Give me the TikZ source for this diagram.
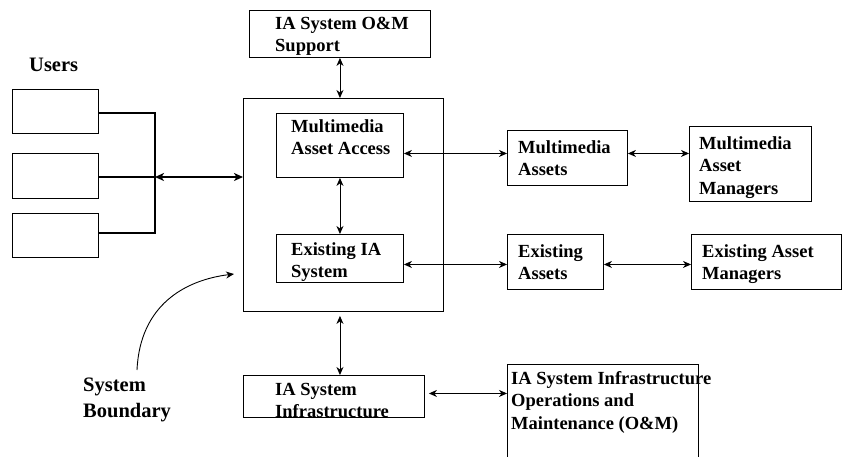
\documentclass[tikz,border=0pt]{standalone}
\usepackage{fontspec}
\setmainfont{Liberation Serif}
\usetikzlibrary{arrows.meta}
% left-aligned stack of lines whose baseline is the first line
\newcommand\boxlines[1]{\vtop{\halign{##\hfil\cr#1\crcr}}}
\begin{document}
\begin{tikzpicture}[x=1pt,y=-1pt,
  box/.style={draw, line width=0.9pt, inner sep=0pt, anchor=north west},
  txt/.style={anchor=base west, inner sep=0pt, font=\bfseries\fontsize{18.5}{22.5}\selectfont},
  tag/.style={anchor=base west, inner sep=0pt, font=\bfseries\fontsize{20.5}{26}\selectfont},
  tip/.style={Stealth[length=8pt,width=7pt,inset=2.5pt]},
  link/.style={{Stealth[length=8pt,width=7pt,inset=2.5pt]}-{Stealth[length=8pt,width=7pt,inset=2.5pt]}, line width=0.9pt},
  buslink/.style={{Stealth[length=9pt,width=8pt,inset=2.5pt]}-{Stealth[length=9pt,width=8pt,inset=2.5pt]}, line width=1.5pt},
  bus/.style={line width=2pt},
  pointer/.style={-{Stealth[length=8pt,width=7pt,inset=2.5pt]}, line width=0.9pt}]
\useasboundingbox (0,0) rectangle (842,456);
\clip (0,0) rectangle (842,456);

% boxes
\node[box, minimum width=181pt, minimum height=47pt] (om) at (249,10) {};
\node[box, minimum width=200pt, minimum height=213pt] (big) at (243,98) {};
\node[box, minimum width=127pt, minimum height=64pt] (maa) at (276,113) {};
\node[box, minimum width=127pt, minimum height=48pt] (eia) at (276,234) {};
\node[box, minimum width=120pt, minimum height=55pt] (ma) at (507,130) {};
\node[box, minimum width=122pt, minimum height=75pt] (mam) at (689,126) {};
\node[box, minimum width=96pt, minimum height=55pt] (ea) at (507,234) {};
\node[box, minimum width=150pt, minimum height=55pt] (eam) at (691,234) {};
\node[box, minimum width=181pt, minimum height=42pt] (iasi) at (243,375) {};
\node[box, minimum width=191pt, minimum height=110pt] (iasiom) at (507,364) {};
\node[box, minimum width=86pt, minimum height=44pt] (u1) at (12,89) {};
\node[box, minimum width=86pt, minimum height=45pt] (u2) at (12,153) {};
\node[box, minimum width=86pt, minimum height=44pt] (u3) at (12,213) {};

% texts
\node[txt] (om-t) at (275,29) {\boxlines{IA System O\&M\cr Support}};
\node[txt] (maa-t) at (291,132) {\boxlines{Multimedia\cr Asset Access}};
\node[txt] (eia-t) at (291,255) {\boxlines{Existing IA\cr System}};
\node[txt] (ma-t) at (518,153) {\boxlines{Multimedia\cr Assets}};
\node[txt] (mam-t) at (699,149) {\boxlines{Multimedia\cr Asset\cr Managers}};
\node[txt] (ea-t) at (518,257) {\boxlines{Existing\cr Assets}};
\node[txt] (eam-t) at (702,257) {\boxlines{Existing Asset\cr Managers}};
\node[txt] (iasi-t) at (275,395) {\boxlines{IA System\cr Infrastructure}};
\node[txt] (iasiom-t) at (511,384) {\boxlines{IA System Infrastructure\cr Operations and\cr Maintenance (O\&M)}};
\node[tag] (users) at (29,71) {Users};
\node[tag] (sysb) at (83,391) {\boxlines{System\cr Boundary}};

% users bus
\coordinate (b1) at (155,113);
\coordinate (b2) at (155,177);
\coordinate (b3) at (155,233);
\draw[bus] (u1.east |- b1) -- (b1) -- (b3) -- (u3.east |- b3);
\draw[bus] (u2.east |- b2) -- (b2);
\draw[buslink] (b2) -- (b2 -| big.west);

% vertical links
\draw[link] (om.south) -- (om.south |- big.north);
\draw[link] (maa.south) -- (maa.south |- eia.north);
\draw[link] ([yshift=-4pt]big.south -| maa.south) -- (iasi.north -| maa.south);

% horizontal links
\draw[link] ([yshift=-8pt]maa.east) -- ([yshift=-8pt]maa.east -| ma.west);
\draw[link] ([yshift=4.5pt]ma.east) -- ([yshift=4.5pt]ma.east -| mam.west);
\draw[link] ([yshift=-6pt]eia.east) -- ([yshift=-6pt]eia.east -| ea.west);
\draw[link] ([yshift=-2.5pt]ea.east) -- ([yshift=-2.5pt]ea.east -| eam.west);
\draw[link] ([xshift=4pt,yshift=3pt]iasi.east) -- ([yshift=3pt]iasi.east -| iasiom.west);

% pointer to the system boundary
\coordinate (sbtail) at (137,370);
\coordinate (sbtip) at (234,274);
\draw[pointer] (sbtail) .. controls (140,305) and (185,280) .. (sbtip);
\end{tikzpicture}
\end{document}
